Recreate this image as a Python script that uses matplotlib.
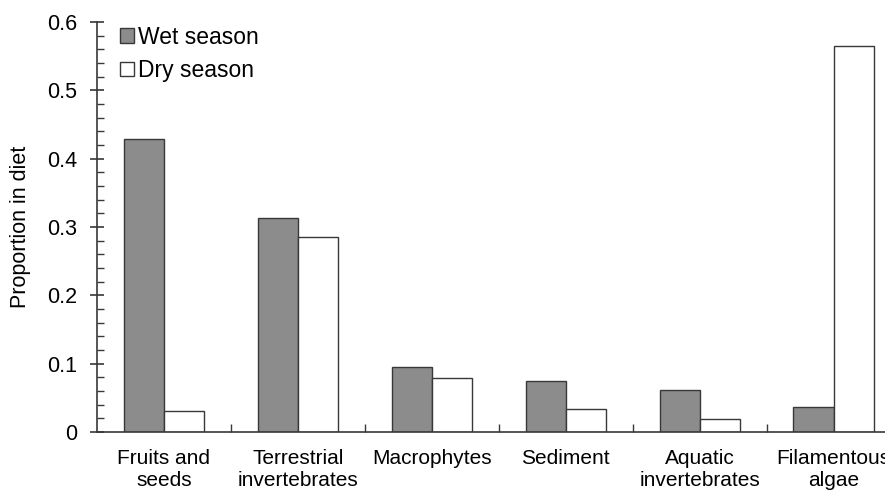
import matplotlib.pyplot as plt
import numpy as np
from matplotlib.ticker import MultipleLocator, FixedLocator

plt.rcParams['font.family'] = ['Liberation Sans', 'DejaVu Sans']

# 数据
categories = ["Fruits and\nseeds", "Terrestrial\ninvertebrates", "Macrophytes",
              "Sediment", "Aquatic\ninvertebrates", "Filamentous\nalgae"]
wet_season = [0.429, 0.313, 0.095, 0.075, 0.061, 0.037]
dry_season = [0.031, 0.285, 0.079, 0.034, 0.019, 0.565]

fig = plt.figure(figsize=(8.85, 4.92), dpi=100, facecolor='white')
# 右边故意超出画布，和原图一样被裁掉
ax = fig.add_axes([0.1096, 0.122, 0.908, 0.833])

x = np.arange(len(categories))
w = 0.3
ax.bar(x - w/2, wet_season, w, color='#8c8c8c', edgecolor='#383838', linewidth=1.0, label='Wet season')
ax.bar(x + w/2, dry_season, w, color='white', edgecolor='#383838', linewidth=1.0, label='Dry season')

ax.set_xlim(-0.5, len(categories) - 0.5)
ax.set_ylim(0, 0.6)

ax.spines['top'].set_visible(False)
ax.spines['right'].set_visible(False)
for s in ['left', 'bottom']:
    ax.spines[s].set_color('#383838')
    ax.spines[s].set_linewidth(1.2)

# y轴刻度
ax.yaxis.set_minor_locator(MultipleLocator(0.02))
ax.set_yticks(np.arange(0, 0.61, 0.1))
ax.set_yticklabels(['0', '0.1', '0.2', '0.3', '0.4', '0.5', '0.6'])
ax.tick_params(axis='y', which='major', direction='inout', length=10, width=1.2,
               color='#383838', labelsize=15.5, pad=9)
ax.tick_params(axis='y', which='minor', direction='in', length=5, width=1.0, color='#383838')

# x轴：标签在中间，刻度线在组之间
ax.set_xticks(x)
ax.set_xticklabels(categories, linespacing=1.25)
ax.xaxis.set_minor_locator(FixedLocator(np.arange(0.5, len(categories) - 0.5, 1)))
ax.tick_params(axis='x', which='major', length=0, labelsize=15, pad=12)
ax.tick_params(axis='x', which='minor', direction='in', length=6, width=1.0, color='#383838')

ax.set_ylabel('Proportion in diet', fontsize=15.5, labelpad=12)

ax.legend(loc='upper left', bbox_to_anchor=(0.012, 1.025), frameon=False, fontsize=16.5,
          handlelength=0.6, handleheight=0.6, handletextpad=0.15, labelspacing=0.45,
          borderaxespad=0.2)

fig.savefig('out.png', dpi=100)
